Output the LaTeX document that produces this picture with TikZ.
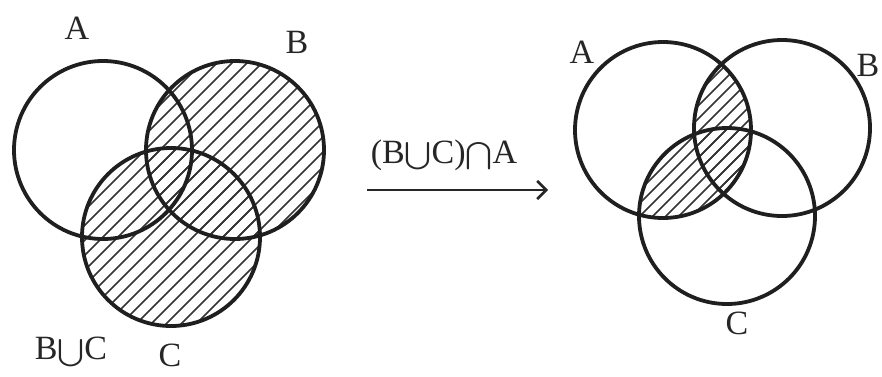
\documentclass[tikz,border=0pt]{standalone}
\usepackage{amsmath}
\usepackage{graphicx}
\usepackage{fontspec}
\setmainfont{Liberation Serif}
\usetikzlibrary{arrows.meta}
\newcommand{\Un}{\scalebox{1.3}[1.1]{\ensuremath{\mathord{\bigcup}}}}
\newcommand{\In}{\scalebox{1.3}[1.1]{\ensuremath{\mathord{\bigcap}}}}
\begin{document}
\begin{tikzpicture}[x=1pt,y=-1pt,
  ring/.style={circle,draw=black!88,line width=3.8pt,inner sep=0pt,minimum size=178pt},
  hatch/.style={line width=1.6pt,draw=black!80},
  lbl/.style={font=\fontsize{34}{36}\selectfont,inner sep=0pt,text=black!85}]
\useasboundingbox (0,0) rectangle (882,376);
% left diagram centres
\coordinate (lA) at (103,150);
\coordinate (lB) at (235,150);
\coordinate (lC) at (171,237);
% right diagram centres
\coordinate (rA) at (663,130);
\coordinate (rB) at (782,128);
\coordinate (rC) at (727,216);
% left hatching: B union C
\begin{scope}
  \clip (lB) circle (89);
  \foreach \c in {100,115,...,700} \draw[hatch] (\c,0) -- (\c-400,400);
\end{scope}
\begin{scope}
  \clip (lC) circle (89);
  \foreach \c in {100,115,...,700} \draw[hatch] (\c,0) -- (\c-400,400);
\end{scope}
% right hatching: (B union C) intersect A
\begin{scope}
  \clip (rA) circle (88);
  \begin{scope}
    \clip (rB) circle (88);
    \foreach \c in {700,713,...,1200} \draw[hatch] (\c,0) -- (\c-400,400);
  \end{scope}
  \begin{scope}
    \clip (rC) circle (88);
    \foreach \c in {700,713,...,1200} \draw[hatch] (\c,0) -- (\c-400,400);
  \end{scope}
\end{scope}
% circles
\node[ring] (cA) at (lA) {};
\node[ring] (cB) at (lB) {};
\node[ring] (cC) at (lC) {};
\node[ring,minimum size=176pt] (dA) at (rA) {};
\node[ring,minimum size=176pt] (dB) at (rB) {};
\node[ring,minimum size=176pt] (dC) at (rC) {};
% labels
\node[lbl] (tA) at (77,28) {A};
\node[lbl] (tB) at (297,42) {B};
\node[lbl] (tBC) at (71,352) {B\Un C};
\node[lbl] (tC) at (170,355) {C};
\node[lbl] (uA) at (582,52) {A};
\node[lbl] (uB) at (868,65) {B};
\node[lbl] (uC) at (737,323) {C};
\node[lbl] (op) at (444,155) {(B\Un C)\In A};
% arrow
\coordinate (a0) at (367,190);
\coordinate (a1) at (548,190);
\draw[line width=2.2pt,draw=black!85,-{Straight Barb[length=9pt,width=18pt,line width=2.6pt]}] (a0) -- (a1);
\end{tikzpicture}
\end{document}
